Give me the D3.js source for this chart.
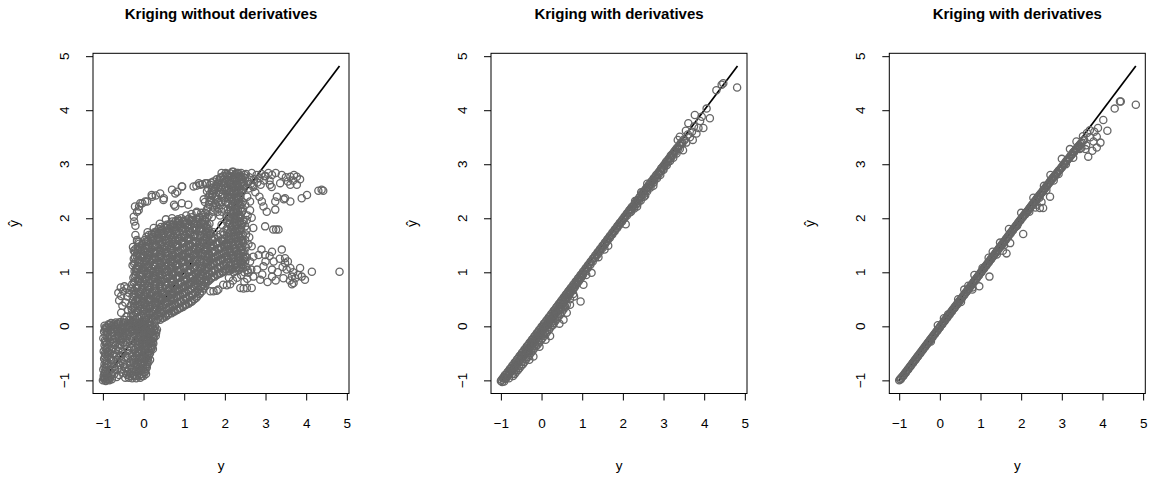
<!DOCTYPE html>
<html><head><meta charset="utf-8">
<script src="https://cdn.jsdelivr.net/npm/d3@7"></script>
<style>body{margin:0;background:#fff} text{font-family:"Liberation Sans",Arial,Helvetica,sans-serif;fill:#000}</style>
</head><body><svg id="c" width="1153" height="479"></svg>
<script>
// ---------- data ----------
const titles = ["Kriging without derivatives", "Kriging with derivatives", "Kriging with derivatives"];
const xLabel = "y";
const yLabel = "ŷ";
const tickValues = [-1, 0, 1, 2, 3, 4, 5];
const tickLabels = ["\u22121", "0", "1", "2", "3", "4", "5"];
const yRange = [-1.01, 4.82];   // range of the true responses (axes limits and the y = ŷ line)

// Panel 1: kriging without derivatives, pairs [y, ŷ]
const noDerivBlob = [
[-1.00,-1.00],[-0.97,-0.98],[-0.93,-1.01],[-0.88,-0.99],[-0.84,-1.00],[-0.78,-0.98],[-0.98,-0.92],[-0.95,-0.86],[-0.99,-0.80],[-0.92,-0.76],[-0.96,-0.70],[-0.90,-0.64],[-0.97,-0.60],[-0.93,-0.52],[-0.98,-0.46],[-0.91,-0.42],[-0.96,-0.35],[-0.92,-0.28],[-0.99,-0.22],[-0.94,-0.16],[-0.97,-0.10],[-0.92,-0.04],[-0.96,0.01],[-0.88,-0.12],[-0.86,-0.22],[-0.85,-0.34],[-0.87,-0.48],[-0.84,-0.58],[-0.86,-0.70],[-0.83,-0.82],[-0.80,-0.90],
[-0.85,0.02],[-0.80,0.06],[-0.74,0.03],[-0.68,0.07],[-0.62,0.04],[-0.56,0.08],[-0.50,0.03],[-0.44,0.07],[-0.38,0.02],[-0.32,0.06],[-0.26,0.01],[-0.20,0.05],[-0.14,0.00],[-0.08,0.04],[-0.02,-0.01],[0.04,0.03],[0.10,-0.02],[0.16,0.02],[0.22,-0.04],[0.28,0.00],[0.33,-0.06],
[-0.80,-0.06],[-0.73,-0.10],[-0.66,-0.05],[-0.60,-0.12],[-0.53,-0.07],[-0.46,-0.13],[-0.40,-0.06],[-0.33,-0.11],[-0.27,-0.05],[-0.21,-0.12],[-0.15,-0.07],[-0.09,-0.13],[-0.03,-0.08],[0.03,-0.12],[0.09,-0.08],[0.15,-0.14],[0.21,-0.10],[0.27,-0.15],
[-0.78,-0.18],[-0.70,-0.22],[-0.62,-0.19],[-0.55,-0.26],[-0.47,-0.21],[-0.35,-0.24],[-0.24,-0.20],[-0.12,-0.22],[-0.05,-0.28],[0.02,-0.20],[0.08,-0.26],[0.14,-0.21],[0.20,-0.27],[0.25,-0.22],
[-0.15,-0.35],[-0.08,-0.38],[0.00,-0.33],[0.07,-0.37],[0.14,-0.32],[0.21,-0.36],[-0.12,-0.45],[-0.04,-0.48],[0.04,-0.44],[0.11,-0.49],[0.18,-0.43],[-0.16,-0.55],[-0.09,-0.58],[-0.01,-0.54],[0.06,-0.59],[0.13,-0.55],[-0.13,-0.66],[-0.06,-0.69],[0.02,-0.65],[0.09,-0.70],[-0.17,-0.75],[-0.10,-0.78],[-0.03,-0.74],[0.05,-0.79],[-0.12,-0.86],[-0.05,-0.88],[0.02,-0.85],[-0.20,-0.84],[-0.26,-0.90],[-0.33,-0.92],
[-0.70,-0.35],[-0.62,-0.45],[-0.55,-0.55],[-0.48,-0.62],[-0.66,-0.62],[-0.74,-0.52],[-0.72,-0.74],[-0.64,-0.80],[-0.58,-0.72],[-0.50,-0.86],[-0.45,-0.95],[-0.40,-0.90],[-0.36,-0.80],[-0.42,-0.70],[-0.38,-0.45],[-0.30,-0.40],[-0.28,-0.55],[-0.24,-0.68],[-0.45,-0.35],[-0.32,-0.65],
[-0.60,0.48],[-0.55,0.56],[-0.50,0.65],[-0.47,0.74],[-0.42,0.70],[-0.52,0.38],[-0.45,0.44],[-0.40,0.55],[-0.36,0.62],[-0.38,0.30],[-0.32,0.38],[-0.30,0.22],[-0.42,0.18],[-0.55,0.25],[-0.48,0.12],[-0.35,0.12],[-0.62,0.62],[-0.26,0.48],[-0.30,0.70],[-0.56,0.72]
];
const noDerivBlobFill = [
[-0.95,-0.96],[-0.90,-0.94],[-0.86,-0.94],[-0.93,-0.82],[-0.89,-0.88],[-0.90,-0.72],[-0.94,-0.64],[-0.88,-0.56],[-0.95,-0.50],[-0.89,-0.40],[-0.94,-0.30],[-0.89,-0.20],[-0.95,-0.06],[-0.89,-0.02],[-0.82,-0.02],[-0.76,-0.04],[-0.70,-0.01],[-0.64,-0.08],[-0.58,-0.02],[-0.52,-0.10],[-0.46,-0.03],[-0.40,-0.11],[-0.34,-0.02],[-0.28,-0.09],[-0.22,-0.01],[-0.16,-0.10],[-0.10,-0.03],[-0.04,-0.12],[0.02,-0.04],[0.08,-0.14],[0.14,-0.05],[0.20,-0.17],[0.26,-0.08],[0.31,-0.12],
[-0.82,-0.28],[-0.74,-0.30],[-0.66,-0.28],[-0.58,-0.34],[-0.50,-0.30],[-0.41,-0.30],[-0.30,-0.30],[-0.19,-0.28],[-0.09,-0.30],[0.05,-0.30],[0.11,-0.40],[0.18,-0.30],[0.24,-0.32],
[-0.18,-0.40],[-0.11,-0.50],[-0.04,-0.60],[0.04,-0.50],[0.10,-0.62],[0.16,-0.50],[0.08,-0.76],[-0.14,-0.70],[-0.07,-0.82],[0.00,-0.92],[-0.16,-0.92],[-0.08,-0.95],[0.12,-0.66],[0.20,-0.40],[0.16,-0.62],
[-0.78,-0.42],[-0.80,-0.62],[-0.77,-0.78],[-0.72,-0.88],[-0.66,-0.94],[-0.60,-0.90],[-0.56,-0.80],[-0.62,-0.68],[-0.68,-0.54],[-0.64,-0.38],[-0.58,-0.40],[-0.52,-0.48],[-0.50,-0.70],[-0.44,-0.78],[-0.36,-0.95],[-0.28,-0.96],[-0.22,-0.92],[-0.24,-0.80],[-0.32,-0.72],[-0.38,-0.58],[-0.24,-0.44],[-0.22,-0.58],[-0.30,-0.86],[-0.40,-0.42],
[-0.97,-0.95],[-0.91,-0.98],[-0.86,-0.97],[-0.82,-0.95],[-0.96,-0.88],[-0.91,-0.84],[-0.96,-0.76],[-0.90,-0.68],[-0.95,-0.56],[-0.89,-0.48],[-0.94,-0.40],[-0.90,-0.32],[-0.95,-0.26],[-0.90,-0.10],[-0.94,-0.02],[-0.86,0.04],[-0.78,0.01],[-0.72,0.05],[-0.66,0.02],[-0.60,0.07],[-0.54,0.00],[-0.48,0.06],[-0.42,0.00],[-0.36,0.05],[-0.30,0.03],[-0.24,0.07],[-0.18,0.02],[-0.12,0.06],[-0.06,0.01],[0.00,0.05],[0.06,-0.04],[0.12,0.01],[0.18,-0.06],[0.24,-0.02],[0.30,-0.08],
[-0.76,-0.12],[-0.70,-0.08],[-0.63,-0.15],[-0.56,-0.10],[-0.49,-0.16],[-0.43,-0.09],[-0.37,-0.15],[-0.30,-0.08],[-0.24,-0.14],[-0.18,-0.06],[-0.12,-0.16],[-0.06,-0.10],[0.00,-0.16],[0.06,-0.10],[0.12,-0.18],[0.18,-0.12],[0.24,-0.19],[0.30,-0.18],
[-0.74,-0.24],[-0.66,-0.20],[-0.58,-0.23],[-0.51,-0.24],[-0.43,-0.26],[-0.28,-0.24],[-0.16,-0.26],[-0.08,-0.24],[-0.01,-0.26],[0.05,-0.23],[0.11,-0.28],[0.17,-0.24],[0.23,-0.28],
[-0.12,-0.33],[-0.04,-0.36],[0.04,-0.35],[0.10,-0.34],[0.17,-0.37],[0.23,-0.42],[-0.14,-0.50],[-0.07,-0.43],[0.01,-0.46],[0.08,-0.52],[0.15,-0.46],[-0.18,-0.62],[-0.11,-0.62],[-0.04,-0.56],[0.04,-0.62],[0.11,-0.58],[-0.15,-0.80],[-0.08,-0.72],[0.00,-0.70],[0.06,-0.74],[-0.10,-0.90],[-0.02,-0.80],[0.04,-0.84],[-0.18,-0.96],[-0.04,-0.92],[0.06,-0.88],
[-0.82,-0.50],[-0.81,-0.70],[-0.75,-0.62],[-0.70,-0.80],[-0.68,-0.44],[-0.60,-0.56],[-0.54,-0.64],[-0.46,-0.76],[-0.40,-0.84],[-0.34,-0.88],[-0.28,-0.78],[-0.26,-0.62],[-0.34,-0.50],[-0.42,-0.56],[-0.20,-0.70],[-0.20,-0.48]
];
const noDerivBand = [
[-0.28,0.08],[-0.25,0.19],[-0.29,0.31],[-0.24,0.42],[-0.27,0.55],[-0.23,0.66],[-0.28,0.78],[-0.25,0.90],[-0.22,1.02],[-0.27,1.13],[-0.24,1.25],[-0.21,1.37],[-0.26,1.47],
[-0.16,0.02],[-0.13,0.14],[-0.17,0.26],[-0.12,0.37],[-0.15,0.49],[-0.11,0.60],[-0.16,0.72],[-0.13,0.84],[-0.10,0.95],[-0.15,1.07],[-0.12,1.19],[-0.09,1.30],[-0.14,1.42],[-0.11,1.53],[-0.16,1.60],
[0.00,0.05],[0.03,0.16],[-0.02,0.28],[0.02,0.40],[-0.01,0.51],[0.04,0.63],[0.00,0.75],[0.03,0.87],[-0.02,0.98],[0.02,1.10],[0.05,1.21],[0.00,1.33],[0.03,1.45],[0.06,1.57],
[0.13,0.10],[0.16,0.22],[0.12,0.33],[0.15,0.45],[0.18,0.57],[0.13,0.68],[0.16,0.80],[0.12,0.92],[0.17,1.03],[0.14,1.15],[0.11,1.27],[0.16,1.38],[0.13,1.50],[0.18,1.62],[0.20,1.70],
[0.27,0.08],[0.30,0.20],[0.26,0.31],[0.29,0.43],[0.32,0.55],[0.27,0.66],[0.30,0.78],[0.26,0.90],[0.31,1.01],[0.28,1.13],[0.25,1.25],[0.30,1.36],[0.27,1.48],[0.32,1.60],[0.29,1.72],
[0.41,0.12],[0.44,0.24],[0.40,0.35],[0.43,0.47],[0.46,0.59],[0.41,0.70],[0.44,0.82],[0.40,0.94],[0.45,1.05],[0.42,1.17],[0.39,1.29],[0.44,1.40],[0.41,1.52],[0.46,1.64],[0.43,1.76],
[0.55,0.18],[0.58,0.30],[0.54,0.41],[0.57,0.53],[0.60,0.65],[0.55,0.76],[0.58,0.88],[0.54,1.00],[0.59,1.11],[0.56,1.23],[0.53,1.35],[0.58,1.46],[0.55,1.58],[0.60,1.70],[0.57,1.82],
[0.69,0.24],[0.72,0.36],[0.68,0.47],[0.71,0.59],[0.74,0.71],[0.69,0.82],[0.72,0.94],[0.68,1.06],[0.73,1.17],[0.70,1.29],[0.67,1.41],[0.72,1.52],[0.69,1.64],[0.74,1.76],[0.71,1.87],
[0.83,0.30],[0.86,0.42],[0.82,0.53],[0.85,0.65],[0.88,0.77],[0.83,0.88],[0.86,1.00],[0.82,1.12],[0.87,1.23],[0.84,1.35],[0.81,1.47],[0.86,1.58],[0.83,1.70],[0.88,1.82],[0.85,1.92],
[0.97,0.36],[1.00,0.48],[0.96,0.59],[0.99,0.71],[1.02,0.83],[0.97,0.94],[1.00,1.06],[0.96,1.18],[1.01,1.29],[0.98,1.41],[0.95,1.53],[1.00,1.64],[0.97,1.76],[1.02,1.88],[0.99,1.96],
[1.11,0.42],[1.14,0.54],[1.10,0.65],[1.13,0.77],[1.16,0.89],[1.11,1.00],[1.14,1.12],[1.10,1.24],[1.15,1.35],[1.12,1.47],[1.09,1.59],[1.14,1.70],[1.11,1.82],[1.16,1.94],
[1.25,0.50],[1.28,0.62],[1.24,0.73],[1.27,0.85],[1.30,0.97],[1.25,1.08],[1.28,1.20],[1.24,1.32],[1.29,1.43],[1.26,1.55],[1.23,1.67],[1.28,1.78],[1.25,1.90],[1.30,1.98],
[1.39,0.62],[1.42,0.74],[1.38,0.85],[1.41,0.97],[1.44,1.09],[1.39,1.20],[1.42,1.32],[1.38,1.44],[1.43,1.55],[1.40,1.67],[1.37,1.79],[1.42,1.90],[1.39,2.00],
[1.53,0.80],[1.56,0.92],[1.52,1.03],[1.55,1.15],[1.58,1.27],[1.53,1.38],[1.56,1.50],[1.52,1.62],[1.57,1.73],[1.54,1.85],[1.51,1.97],
[1.67,0.90],[1.70,1.02],[1.66,1.13],[1.69,1.25],[1.72,1.37],[1.67,1.48],[1.70,1.60],[1.66,1.72],[1.62,1.90],[1.68,2.02],
[1.81,0.95],[1.84,1.07],[1.80,1.18],[1.83,1.30],[1.86,1.42],[1.81,1.53],[1.84,1.65],[1.92,1.88],[1.88,2.05],
[1.95,1.00],[1.98,1.12],[1.94,1.23],[1.97,1.35],[2.00,1.47],[1.95,1.58],[1.98,1.70],
[1.05,2.05],[1.18,2.08],[1.30,2.10],[1.42,2.10],[0.55,1.98],[0.70,2.00],[0.40,1.90],[0.25,1.82],[0.10,1.74]
];
const noDerivBandFill = [
[-0.20,0.13],[-0.19,0.25],[-0.21,0.37],[-0.18,0.48],[-0.20,0.61],[-0.17,0.72],[-0.21,0.84],[-0.19,0.96],[-0.18,1.08],[-0.21,1.19],[-0.17,1.31],[-0.20,1.43],
[-0.07,0.08],[-0.05,0.20],[-0.08,0.32],[-0.04,0.44],[-0.06,0.56],[-0.03,0.68],[-0.07,0.80],[-0.05,0.92],[-0.04,1.04],[-0.07,1.15],[-0.03,1.27],[-0.06,1.39],[-0.04,1.50],
[0.07,0.12],[0.09,0.24],[0.06,0.36],[0.10,0.48],[0.08,0.60],[0.11,0.72],[0.07,0.84],[0.09,0.96],[0.10,1.08],[0.07,1.20],[0.11,1.32],[0.08,1.44],[0.10,1.56],[0.07,1.66],
[0.21,0.15],[0.23,0.27],[0.20,0.39],[0.24,0.51],[0.22,0.63],[0.25,0.75],[0.21,0.87],[0.23,0.99],[0.24,1.11],[0.21,1.23],[0.25,1.35],[0.22,1.47],[0.24,1.59],[0.21,1.71],
[0.35,0.14],[0.37,0.26],[0.34,0.38],[0.38,0.50],[0.36,0.62],[0.39,0.74],[0.35,0.86],[0.37,0.98],[0.38,1.10],[0.35,1.22],[0.39,1.34],[0.36,1.46],[0.38,1.58],[0.35,1.70],[0.37,1.80],
[0.49,0.16],[0.51,0.28],[0.48,0.40],[0.52,0.52],[0.50,0.64],[0.53,0.76],[0.49,0.88],[0.51,1.00],[0.52,1.12],[0.49,1.24],[0.53,1.36],[0.50,1.48],[0.52,1.60],[0.49,1.72],[0.51,1.84],
[0.63,0.24],[0.65,0.36],[0.62,0.48],[0.66,0.60],[0.64,0.72],[0.67,0.84],[0.63,0.96],[0.65,1.08],[0.66,1.20],[0.63,1.32],[0.67,1.44],[0.64,1.56],[0.66,1.68],[0.63,1.80],[0.65,1.90],
[0.77,0.28],[0.79,0.40],[0.76,0.52],[0.80,0.64],[0.78,0.76],[0.81,0.88],[0.77,1.00],[0.79,1.12],[0.80,1.24],[0.77,1.36],[0.81,1.48],[0.78,1.60],[0.80,1.72],[0.77,1.84],[0.79,1.95],
[0.91,0.34],[0.93,0.46],[0.90,0.58],[0.94,0.70],[0.92,0.82],[0.95,0.94],[0.91,1.06],[0.93,1.18],[0.94,1.30],[0.91,1.42],[0.95,1.54],[0.92,1.66],[0.94,1.78],[0.91,1.90],[0.93,2.00],
[1.05,0.40],[1.07,0.52],[1.04,0.64],[1.08,0.76],[1.06,0.88],[1.09,1.00],[1.05,1.12],[1.07,1.24],[1.08,1.36],[1.05,1.48],[1.09,1.60],[1.06,1.72],[1.08,1.84],[1.05,1.96],
[1.19,0.46],[1.21,0.58],[1.18,0.70],[1.22,0.82],[1.20,0.94],[1.23,1.06],[1.19,1.18],[1.21,1.30],[1.22,1.42],[1.19,1.54],[1.23,1.66],[1.20,1.78],[1.22,1.90],[1.19,2.02],
[1.33,0.56],[1.35,0.68],[1.32,0.80],[1.36,0.92],[1.34,1.04],[1.37,1.16],[1.33,1.28],[1.35,1.40],[1.36,1.52],[1.33,1.64],[1.37,1.76],[1.34,1.88],[1.36,2.02],
[1.47,0.70],[1.49,0.82],[1.46,0.94],[1.50,1.06],[1.48,1.18],[1.51,1.30],[1.47,1.42],[1.49,1.54],[1.50,1.66],[1.47,1.78],[1.49,1.90],[1.46,2.02],
[1.61,0.85],[1.63,0.97],[1.60,1.09],[1.64,1.21],[1.62,1.33],[1.65,1.45],[1.61,1.57],[1.63,1.69],[1.60,1.80],[1.56,2.00],
[1.75,0.92],[1.77,1.04],[1.74,1.16],[1.78,1.28],[1.76,1.40],[1.79,1.52],[1.75,1.64],[1.72,1.74],
[1.89,0.98],[1.91,1.10],[1.88,1.22],[1.92,1.34],[1.90,1.46],[1.93,1.58],[1.89,1.70],
[2.03,1.06],[2.04,1.18],[2.02,1.30],[2.05,1.42],[2.03,1.54],[2.05,1.66],[2.04,1.80],[2.06,1.92],[2.04,2.04],[2.07,2.16]
];
const noDerivBandFill2 = [
[-0.24,0.12],[-0.22,0.22],[-0.25,0.34],[-0.21,0.46],[-0.23,0.58],[-0.20,0.70],[-0.24,0.81],[-0.22,0.93],[-0.19,1.05],[-0.23,1.16],[-0.21,1.28],[-0.24,1.40],
[-0.12,0.06],[-0.10,0.18],[-0.13,0.29],[-0.09,0.41],[-0.11,0.52],[-0.08,0.64],[-0.12,0.75],[-0.10,0.87],[-0.07,0.99],[-0.11,1.10],[-0.09,1.22],[-0.12,1.34],[-0.08,1.46],[-0.12,1.56],
[0.04,0.09],[0.06,0.20],[0.02,0.31],[0.05,0.43],[0.03,0.55],[0.07,0.66],[0.04,0.78],[0.06,0.90],[0.02,1.02],[0.05,1.13],[0.08,1.25],[0.04,1.37],[0.06,1.49],[0.03,1.60],
[0.18,0.13],[0.20,0.25],[0.16,0.37],[0.19,0.49],[0.21,0.60],[0.17,0.72],[0.19,0.84],[0.16,0.95],[0.20,1.07],[0.18,1.19],[0.15,1.30],[0.19,1.42],[0.17,1.54],[0.20,1.66],
[0.32,0.11],[0.34,0.23],[0.30,0.35],[0.33,0.46],[0.35,0.58],[0.31,0.70],[0.33,0.82],[0.30,0.93],[0.34,1.05],[0.32,1.17],[0.29,1.28],[0.33,1.40],[0.31,1.52],[0.35,1.64],[0.32,1.75],
[0.46,0.15],[0.48,0.27],[0.44,0.39],[0.47,0.50],[0.49,0.62],[0.45,0.74],[0.47,0.85],[0.44,0.97],[0.48,1.09],[0.46,1.20],[0.43,1.32],[0.47,1.44],[0.45,1.56],[0.49,1.68],[0.46,1.79],
[0.60,0.21],[0.62,0.33],[0.58,0.45],[0.61,0.56],[0.63,0.68],[0.59,0.80],[0.61,0.91],[0.58,1.03],[0.62,1.15],[0.60,1.26],[0.57,1.38],[0.61,1.50],[0.59,1.62],[0.63,1.74],[0.60,1.85],
[0.74,0.27],[0.76,0.39],[0.72,0.51],[0.75,0.62],[0.77,0.74],[0.73,0.86],[0.75,0.97],[0.72,1.09],[0.76,1.21],[0.74,1.32],[0.71,1.44],[0.75,1.56],[0.73,1.68],[0.77,1.79],[0.74,1.90],
[0.88,0.33],[0.90,0.45],[0.86,0.57],[0.89,0.68],[0.91,0.80],[0.87,0.92],[0.89,1.03],[0.86,1.15],[0.90,1.27],[0.88,1.38],[0.85,1.50],[0.89,1.62],[0.87,1.74],[0.91,1.85],[0.88,1.95],
[1.02,0.39],[1.04,0.51],[1.00,0.63],[1.03,0.74],[1.05,0.86],[1.01,0.98],[1.03,1.09],[1.00,1.21],[1.04,1.33],[1.02,1.44],[0.99,1.56],[1.03,1.68],[1.01,1.80],[1.05,1.91],
[1.16,0.45],[1.18,0.57],[1.14,0.69],[1.17,0.80],[1.19,0.92],[1.15,1.04],[1.17,1.15],[1.14,1.27],[1.18,1.39],[1.16,1.50],[1.13,1.62],[1.17,1.74],[1.15,1.86],[1.19,1.97],
[1.30,0.53],[1.32,0.65],[1.28,0.77],[1.31,0.88],[1.33,1.00],[1.29,1.12],[1.31,1.23],[1.28,1.35],[1.32,1.47],[1.30,1.58],[1.27,1.70],[1.31,1.82],[1.29,1.94],
[1.44,0.65],[1.46,0.77],[1.42,0.89],[1.45,1.00],[1.47,1.12],[1.43,1.24],[1.45,1.35],[1.42,1.47],[1.46,1.59],[1.44,1.70],[1.41,1.82],[1.45,1.94],
[1.58,0.83],[1.60,0.95],[1.56,1.07],[1.59,1.18],[1.61,1.30],[1.57,1.42],[1.59,1.53],[1.56,1.65],[1.60,1.77],[1.57,1.88],
[1.72,0.93],[1.74,1.05],[1.70,1.17],[1.73,1.28],[1.75,1.40],[1.71,1.52],[1.73,1.63],
[1.86,0.98],[1.88,1.10],[1.84,1.22],[1.87,1.34],[1.89,1.46],[1.85,1.57],
[2.00,1.03],[2.02,1.15],[1.98,1.27],[2.01,1.39],[2.03,1.51],[1.99,1.62]
];
const noDerivBandFill3 = [
[-0.16,0.17],[-0.14,0.29],[-0.17,0.40],[-0.15,0.52],[-0.13,0.64],[-0.16,0.76],[-0.14,0.88],[-0.17,1.00],[-0.15,1.12],[-0.13,1.23],[-0.16,1.35],[-0.14,1.47],
[-0.02,0.11],[0.00,0.23],[-0.03,0.35],[-0.01,0.47],[0.01,0.59],[-0.02,0.71],[0.00,0.83],[-0.03,0.95],[-0.01,1.07],[0.01,1.19],[-0.02,1.30],[0.00,1.42],[-0.03,1.53],
[0.12,0.15],[0.14,0.27],[0.11,0.39],[0.13,0.51],[0.15,0.63],[0.12,0.75],[0.14,0.87],[0.11,0.99],[0.13,1.11],[0.15,1.23],[0.12,1.35],[0.14,1.47],[0.11,1.59],[0.13,1.69],
[0.26,0.18],[0.28,0.30],[0.25,0.42],[0.27,0.54],[0.29,0.66],[0.26,0.78],[0.28,0.90],[0.25,1.02],[0.27,1.14],[0.29,1.26],[0.26,1.38],[0.28,1.50],[0.25,1.62],[0.27,1.74],
[0.40,0.18],[0.42,0.30],[0.39,0.42],[0.41,0.54],[0.43,0.66],[0.40,0.78],[0.42,0.90],[0.39,1.02],[0.41,1.14],[0.43,1.26],[0.40,1.38],[0.42,1.50],[0.39,1.62],[0.41,1.73],[0.43,1.84],
[0.54,0.22],[0.56,0.34],[0.53,0.46],[0.55,0.58],[0.57,0.70],[0.54,0.82],[0.56,0.94],[0.53,1.06],[0.55,1.18],[0.57,1.30],[0.54,1.42],[0.56,1.54],[0.53,1.66],[0.55,1.77],[0.57,1.88],
[0.68,0.28],[0.70,0.40],[0.67,0.52],[0.69,0.64],[0.71,0.76],[0.68,0.88],[0.70,1.00],[0.67,1.12],[0.69,1.24],[0.71,1.36],[0.68,1.48],[0.70,1.60],[0.67,1.72],[0.69,1.84],[0.71,1.94],
[0.82,0.32],[0.84,0.44],[0.81,0.56],[0.83,0.68],[0.85,0.80],[0.82,0.92],[0.84,1.04],[0.81,1.16],[0.83,1.28],[0.85,1.40],[0.82,1.52],[0.84,1.64],[0.81,1.76],[0.83,1.88],[0.85,1.98],
[0.96,0.38],[0.98,0.50],[0.95,0.62],[0.97,0.74],[0.99,0.86],[0.96,0.98],[0.98,1.10],[0.95,1.22],[0.97,1.34],[0.99,1.46],[0.96,1.58],[0.98,1.70],[0.95,1.82],[0.97,1.94],
[1.10,0.44],[1.12,0.56],[1.09,0.68],[1.11,0.80],[1.13,0.92],[1.10,1.04],[1.12,1.16],[1.09,1.28],[1.11,1.40],[1.13,1.52],[1.10,1.64],[1.12,1.76],[1.09,1.88],[1.11,1.99],
[1.24,0.50],[1.26,0.62],[1.23,0.74],[1.25,0.86],[1.27,0.98],[1.24,1.10],[1.26,1.22],[1.23,1.34],[1.25,1.46],[1.27,1.58],[1.24,1.70],[1.26,1.82],[1.23,1.94],
[1.38,0.60],[1.40,0.72],[1.37,0.84],[1.39,0.96],[1.41,1.08],[1.38,1.20],[1.40,1.32],[1.37,1.44],[1.39,1.56],[1.41,1.68],[1.38,1.80],[1.40,1.92],
[1.52,0.74],[1.54,0.86],[1.51,0.98],[1.53,1.10],[1.55,1.22],[1.52,1.34],[1.54,1.46],[1.51,1.58],[1.53,1.70],[1.55,1.82],[1.52,1.94],
[1.66,0.88],[1.68,1.00],[1.65,1.12],[1.67,1.24],[1.69,1.36],[1.66,1.48],[1.68,1.60],[1.65,1.72],
[1.80,0.96],[1.82,1.08],[1.79,1.20],[1.81,1.32],[1.83,1.44],[1.80,1.56],
[1.94,1.02],[1.96,1.14],[1.93,1.26],[1.95,1.38],[1.97,1.50],[1.94,1.62],[1.96,1.74]
];
const noDerivColumn = [
[2.10,1.02],[2.22,1.00],[2.34,1.04],[2.44,1.08],[2.12,1.12],[2.26,1.14],[2.38,1.16],[2.08,1.24],[2.20,1.26],[2.32,1.28],[2.44,1.30],[2.14,1.36],[2.27,1.38],[2.39,1.40],[2.08,1.48],[2.21,1.50],[2.33,1.52],[2.45,1.54],[2.13,1.60],[2.26,1.62],[2.38,1.64],[2.10,1.72],[2.22,1.74],[2.34,1.76],[2.16,1.84],[2.28,1.86],[2.40,1.88],[2.12,1.96],[2.24,1.98],[2.36,2.00],[2.18,2.08],[2.30,2.10],[2.42,2.12],[2.14,2.20],[2.26,2.22],[2.38,2.24],[2.20,2.32],[2.32,2.34],[2.10,2.36],[2.16,2.44],[2.28,2.46],[2.40,2.48],[2.06,2.52],[2.22,2.56],[2.34,2.58],[2.12,2.62],[2.46,2.60],[2.00,2.68],[2.18,2.70],[2.30,2.70],[2.42,2.72],[2.08,2.76],[2.24,2.80],[2.36,2.78],[1.96,2.78],[2.14,2.83],[2.30,2.84],[2.48,2.80],[1.88,2.74],[2.02,2.84],
[2.16,1.06],[2.28,1.08],[2.40,1.10],[2.14,1.18],[2.32,1.20],[2.44,1.22],[2.20,1.32],[2.33,1.34],[2.45,1.36],[2.11,1.42],[2.27,1.44],[2.39,1.46],[2.15,1.54],[2.27,1.56],[2.40,1.58],[2.19,1.66],[2.32,1.68],[2.44,1.70],[2.16,1.78],[2.28,1.80],[2.40,1.82],[2.10,1.90],[2.22,1.92],[2.34,1.94],[2.46,1.94],[2.12,2.02],[2.24,2.04],[2.36,2.06],[2.20,2.14],[2.32,2.16],[2.44,2.18],[2.08,2.26],[2.20,2.26],[2.32,2.28],[2.44,2.30],[2.26,2.38],[2.38,2.40],[2.10,2.46],[2.22,2.50],[2.34,2.52],[2.46,2.54],[2.16,2.58],[2.28,2.62],[2.40,2.64],[2.06,2.70],[2.24,2.74],[2.36,2.70],[2.46,2.76],[2.12,2.78],[2.18,2.86],[2.40,2.84],[1.92,2.84],
[2.13,1.05],[2.25,1.03],[2.37,1.07],[2.16,1.15],[2.29,1.17],[2.41,1.19],[2.11,1.27],[2.23,1.29],[2.35,1.31],[2.17,1.39],[2.30,1.41],[2.42,1.43],[2.11,1.51],[2.24,1.53],[2.36,1.55],[2.16,1.63],[2.29,1.65],[2.41,1.67],[2.13,1.75],[2.25,1.77],[2.37,1.79],[2.19,1.87],[2.31,1.89],[2.43,1.91],[2.15,1.99],[2.27,2.01],[2.39,2.03],[2.21,2.11],[2.33,2.13],[2.17,2.23],[2.29,2.25],[2.41,2.27],[2.23,2.35],[2.35,2.37],[2.13,2.39],[2.19,2.47],[2.31,2.49],[2.43,2.51],[2.09,2.55],[2.25,2.59],[2.37,2.61],[2.15,2.65],[2.21,2.73],[2.33,2.75],[2.05,2.79],[2.27,2.83],[2.44,2.68],
[1.52,2.10],[1.58,2.20],[1.62,2.30],[1.66,2.38],[1.70,2.46],[1.74,2.54],[1.78,2.60],[1.84,2.66],[1.60,2.40],[1.68,2.52],[1.72,2.22],[1.80,2.35],[1.86,2.48],[1.90,2.58],[1.94,2.66],[1.76,2.28],[1.64,2.62],[1.56,2.50],[1.48,2.35],[1.82,2.12],[1.88,2.25],[1.92,2.40],[1.98,2.52],[2.02,2.30],[1.96,2.18],
[2.52,2.82],[2.60,2.76],[2.66,2.84],[2.72,2.72],[2.78,2.80],[2.84,2.74],[2.90,2.82],[2.96,2.70],[2.56,2.68],[2.64,2.64],[2.70,2.58],[2.80,2.66],[2.88,2.62],[2.50,2.74],[2.98,2.78]
];
const noDerivColumnFill = [
[2.07,1.08],[2.19,1.06],[2.31,1.10],[2.41,1.14],[2.09,1.18],[2.23,1.20],[2.35,1.22],[2.05,1.30],[2.17,1.32],[2.29,1.34],[2.41,1.36],[2.11,1.42],[2.24,1.44],[2.36,1.46],[2.05,1.54],[2.18,1.56],[2.30,1.58],[2.42,1.60],[2.10,1.66],[2.23,1.68],[2.35,1.70],[2.07,1.78],[2.19,1.80],[2.31,1.82],[2.13,1.90],[2.25,1.92],[2.37,1.94],[2.09,2.02],[2.21,2.04],[2.33,2.06],[2.15,2.14],[2.27,2.16],[2.39,2.18],[2.11,2.26],[2.23,2.28],[2.35,2.30],[2.17,2.38],[2.29,2.40],[2.07,2.42],[2.13,2.50],[2.25,2.52],[2.37,2.54],[2.03,2.58],[2.19,2.62],[2.31,2.64],[2.09,2.68],[2.43,2.66],[1.97,2.72],[2.15,2.76],[2.27,2.76],[2.39,2.78],[2.05,2.82],[2.21,2.86],[2.33,2.84],
[1.55,2.15],[1.61,2.25],[1.65,2.34],[1.69,2.42],[1.73,2.50],[1.77,2.57],[1.81,2.63],[1.87,2.70],[1.63,2.45],[1.71,2.57],[1.75,2.18],[1.83,2.30],[1.89,2.44],[1.93,2.53],[1.97,2.62],[1.79,2.24],[1.67,2.66],[1.59,2.55],[1.51,2.30],[1.85,2.18],[1.91,2.30],[1.95,2.45],[2.01,2.56],[1.99,2.38],[1.93,2.12],[1.60,2.05],[1.70,2.12],[1.78,2.40],[1.84,2.56],[1.90,2.76],[1.80,2.72],[1.72,2.68],
[2.48,1.00],[2.52,1.10],[2.50,1.20],[2.54,1.28],[2.48,1.38],[2.52,1.46],[2.47,1.26],[2.56,1.04]
];
const noDerivUpperArc = [
[-0.23,1.94],[-0.20,1.86],[-0.24,2.03],[-0.16,2.12],[-0.21,2.22],[-0.11,2.22],[-0.08,2.28],[-0.03,2.28],[0.04,2.31],[0.09,2.31],[0.20,2.43],[0.21,2.40],[0.41,2.46],[0.49,2.34],[0.50,2.37],[0.70,2.53],[0.78,2.46],[0.83,2.49],[0.94,2.59],[0.95,2.59],[0.75,2.25],[0.78,2.22],[0.94,2.28],[1.10,2.25],[1.23,2.59],[1.36,2.65],[1.39,2.62],[1.52,2.65],[1.56,2.65],[1.31,2.12],[1.47,2.06],[-0.20,1.69],[-0.16,1.57],[-0.12,2.15],[0.30,2.42],[1.45,2.63],[1.30,2.60]
];
const noDerivUpperRight = [
[3.16,2.80],[3.40,2.80],[3.61,2.77],[3.77,2.77],[3.77,2.62],[3.11,2.62],[3.36,2.65],[3.61,2.62],[4.30,2.51],[4.42,2.51],[4.38,2.53],[4.02,2.43],[3.89,2.37],[3.61,2.31],[3.48,2.37],[3.28,2.40],[3.24,2.31],[2.91,2.31],[2.95,2.22],[3.24,2.16],[3.03,2.12],[2.62,2.31],[2.66,2.01],[2.99,1.85],[3.19,1.79],[3.26,1.79],[3.32,1.79],[2.70,1.82],[2.54,1.79],[2.42,2.12],[2.50,2.25],[3.00,2.78],[3.07,2.84],[3.25,2.84],[3.50,2.76],[3.70,2.80],[3.85,2.72],[3.55,2.68],[3.68,2.70],[2.58,2.55],[2.75,2.48],[2.85,2.40],[2.55,2.40],[2.62,2.15],[2.68,2.62],[3.10,2.70],[3.45,2.35],[3.15,2.58],
[2.50,1.60],[2.58,1.52],[2.66,1.48],[2.54,1.97],[2.46,1.97],[2.50,1.85],[2.52,1.70],[2.60,1.65],[2.56,2.05]
];
const noDerivLowerRight = [
[3.40,1.42],[3.16,1.38],[2.99,1.32],[2.83,1.32],[2.70,1.29],[3.48,1.26],[3.48,1.17],[3.61,1.08],[3.85,1.08],[4.14,1.01],[4.82,1.01],[3.89,0.92],[3.97,0.86],[3.65,0.92],[3.73,0.89],[3.69,0.80],[3.44,0.89],[3.16,0.92],[3.16,1.05],[2.95,1.11],[2.79,1.05],[2.70,0.92],[2.87,0.86],[2.58,0.99],[2.46,1.14],[2.62,1.20],[2.50,1.29],[3.05,0.82],[3.25,0.85],[3.30,1.00],[3.55,1.20],[3.52,1.05],[3.35,1.25],[3.68,1.00],[3.80,0.95],[2.92,0.96],[2.55,0.88],[2.65,1.05],[2.40,0.95],[2.48,0.82],[2.38,1.22],[3.00,1.20],[3.60,0.85],[3.65,0.78],[3.10,1.30],[2.90,1.42],[3.20,1.20],[3.42,1.10],
[2.38,0.71],[2.46,0.70],[2.54,0.71],[2.66,0.71],[1.96,0.77],[2.05,0.76],[2.13,0.78],[1.84,0.68],[1.64,0.65],[1.72,0.65],[1.80,0.66],[1.50,0.75],[2.20,0.85],[2.30,0.90],[2.10,0.90]
];

// Panel 2: kriging with derivatives (first), pairs [y, ŷ]
const derivA = [
[-1.00,-1.01],[-0.95,-0.96],[-0.90,-0.90],[-0.84,-0.85],[-0.78,-0.79],[-0.72,-0.73],[-0.66,-0.67],[-0.60,-0.61],[-0.54,-0.55],[-0.48,-0.49],[-0.42,-0.43],[-0.36,-0.37],[-0.30,-0.31],[-0.24,-0.25],[-0.18,-0.19],[-0.12,-0.13],[-0.06,-0.07],[0.00,-0.01],[0.06,0.05],[0.12,0.11],[0.18,0.17],[0.24,0.23],[0.30,0.29],[0.36,0.35],[0.42,0.41],[0.48,0.47],[0.54,0.53],[0.60,0.59],[0.66,0.65],[0.72,0.71],[0.78,0.77],[0.84,0.83],[0.90,0.89],[0.96,0.95],[1.02,1.01],[1.08,1.07],[1.14,1.13],[1.20,1.19],[1.26,1.25],[1.32,1.31],[1.38,1.37],[1.44,1.43],[1.50,1.49],[1.56,1.55],[1.62,1.61],[1.68,1.67],[1.74,1.73],[1.80,1.79],[1.86,1.85],[1.92,1.91],[1.98,1.97],[2.04,2.03],[2.10,2.09],[2.16,2.15],[2.22,2.21],[2.28,2.26],[2.34,2.33],[2.40,2.38],[2.46,2.45],[2.52,2.50],[2.58,2.56],[2.64,2.62],[2.70,2.68],[2.76,2.74],[2.82,2.80],[2.88,2.85],[2.94,2.92],[3.00,2.97],[3.06,3.04],[3.12,3.09],[3.18,3.16],[3.24,3.21],[3.30,3.27],[3.36,3.32],[3.42,3.39],
[-0.92,-1.02],[-0.86,-0.95],[-0.80,-0.89],[-0.74,-0.83],[-0.68,-0.78],[-0.62,-0.72],[-0.56,-0.66],[-0.50,-0.60],[-0.44,-0.54],[-0.38,-0.49],[-0.32,-0.43],[-0.26,-0.37],[-0.20,-0.31],[-0.14,-0.25],[-0.08,-0.19],[-0.02,-0.13],[0.04,-0.07],[0.10,-0.01],[0.16,0.05],[0.22,0.11],[0.28,0.17],[0.34,0.23],[0.40,0.29],[0.46,0.35],[0.52,0.42],[0.58,0.48],[0.64,0.54],[0.70,0.61],[0.76,0.67],[0.82,0.73],[0.88,0.80],[0.94,0.86],[1.00,0.93],
[-0.70,-0.92],[-0.62,-0.84],[-0.54,-0.77],[-0.46,-0.70],[-0.38,-0.61],[-0.30,-0.53],[-0.22,-0.45],[-0.14,-0.37],[-0.06,-0.30],[0.02,-0.22],[0.10,-0.14],[0.18,-0.07],[0.26,0.02],[0.34,0.10],[0.42,0.18],[0.50,0.27],[0.58,0.36],
[-0.30,-0.62],[-0.20,-0.56],[-0.05,-0.38],[0.10,-0.25],[0.21,-0.18],[0.29,0.03],[0.54,0.12],[0.44,0.05],[0.70,0.40],[0.96,0.46],[1.03,0.77],[1.23,0.99],[2.07,1.89],[1.64,1.49],[0.62,0.25],[0.80,0.55],[1.10,0.95],[1.40,1.28],[1.55,1.42],
[2.20,2.12],[2.28,2.18],[2.36,2.27],[2.44,2.33],[2.52,2.40],[2.60,2.50],[2.68,2.57],[2.76,2.66],[2.84,2.74],[2.92,2.80],[3.00,2.90],[3.08,2.98],[3.16,3.06],[3.24,3.12],[3.32,3.20],[3.40,3.28],[2.30,2.32],[2.45,2.48],[2.60,2.64],[2.35,2.22],[2.55,2.42],[2.75,2.60],[3.35,3.45],
[3.40,3.51],[3.48,3.26],[3.52,3.45],[3.56,3.40],[3.60,3.55],[3.61,3.76],[3.65,3.50],[3.70,3.60],[3.72,3.45],[3.77,3.91],[3.81,3.57],[3.86,3.67],[3.94,3.88],[3.98,3.67],[4.06,4.03],[4.14,3.85],[4.30,4.37],[4.43,4.47],[4.47,4.50],[4.81,4.42],[3.55,3.62],[3.46,3.38],[3.75,3.70],[3.90,3.80]
];
const derivAFill = [
[-0.98,-0.99],[-0.93,-0.94],[-0.87,-0.89],[-0.81,-0.83],[-0.75,-0.77],[-0.69,-0.71],[-0.63,-0.65],[-0.57,-0.59],[-0.51,-0.53],[-0.45,-0.47],[-0.39,-0.41],[-0.33,-0.35],[-0.27,-0.29],[-0.21,-0.23],[-0.15,-0.17],[-0.09,-0.11],[-0.03,-0.05],[0.03,0.01],[0.09,0.07],[0.15,0.13],[0.21,0.19],[0.27,0.25],[0.33,0.31],[0.39,0.37],[0.45,0.43],[0.51,0.49],[0.57,0.55],[0.63,0.61],[0.69,0.67],[0.75,0.73],[0.81,0.79],[0.87,0.85],[0.93,0.91],[0.99,0.97],[1.05,1.03],[1.11,1.09],[1.17,1.15],[1.23,1.21],[1.29,1.27],[1.35,1.33],[1.41,1.39],[1.47,1.45],[1.53,1.51],[1.59,1.57],[1.65,1.63],[1.71,1.69],[1.77,1.75],[1.83,1.81],[1.89,1.87],[1.95,1.93],[2.01,1.99],[2.07,2.05],[2.13,2.11],[2.19,2.17],[2.25,2.22],[2.31,2.29],[2.37,2.34],[2.43,2.41],[2.49,2.46],[2.55,2.53],[2.61,2.58],[2.67,2.64],[2.73,2.70],[2.79,2.76],[2.85,2.82],[2.91,2.88],[2.97,2.94],[3.03,3.00],[3.09,3.06],[3.15,3.12],[3.21,3.18],[3.27,3.24],[3.33,3.30],[3.39,3.35],[3.45,3.41],[3.50,3.46],
[-0.89,-0.97],[-0.83,-0.92],[-0.77,-0.86],[-0.71,-0.81],[-0.65,-0.75],[-0.59,-0.69],[-0.53,-0.63],[-0.47,-0.57],[-0.41,-0.52],[-0.35,-0.46],[-0.29,-0.40],[-0.23,-0.34],[-0.17,-0.28],[-0.11,-0.22],[-0.05,-0.16],[0.01,-0.10],[0.07,-0.04],[0.13,0.02],[0.19,0.08],[0.25,0.14],[0.31,0.20],[0.37,0.26],[0.43,0.32],[0.49,0.39],[0.55,0.45],[0.61,0.51],[0.67,0.58],[0.73,0.64],[0.79,0.70],[0.85,0.77],[0.91,0.83],[0.97,0.90],
[-0.66,-0.88],[-0.58,-0.81],[-0.50,-0.73],[-0.42,-0.66],[-0.34,-0.57],[-0.26,-0.49],[-0.18,-0.41],[-0.10,-0.34],[-0.02,-0.26],[0.06,-0.18],[0.14,-0.10],[0.22,-0.02],[0.30,0.06],[0.38,0.14],[0.46,0.22],[0.54,0.31],[0.62,0.40],[0.70,0.50],[0.78,0.60],
[-0.97,-1.03],[-0.90,-0.97],[-0.84,-0.91],[-0.78,-0.85],[-0.72,-0.80],[-0.66,-0.74],[-0.60,-0.68],[-0.54,-0.62],[-0.48,-0.56],[-0.42,-0.50],[-0.36,-0.44],[-0.30,-0.38],[-0.24,-0.32],[-0.18,-0.26],[-0.12,-0.20],[-0.06,-0.14],[0.00,-0.08],[0.06,-0.02],[0.12,0.04],[0.18,0.10],[0.24,0.16],[0.30,0.22],[0.36,0.28],[0.42,0.34],[0.48,0.40],[0.54,0.47],[0.60,0.53],[0.66,0.59],[0.72,0.66],[0.78,0.72],[0.84,0.78],[0.90,0.84],[0.96,0.90],[1.02,0.96],[1.08,1.02],[1.14,1.08],[1.20,1.14],[1.26,1.20],[1.32,1.27],[1.38,1.33],[1.44,1.39],[1.50,1.45],[1.56,1.52],[1.62,1.58],[1.68,1.64],[1.74,1.70],[1.80,1.76],[1.86,1.82],[1.92,1.88],[1.98,1.94],[2.04,2.00],[2.10,2.05],[2.16,2.10],[2.22,2.16],[2.28,2.22],[2.34,2.28],[2.40,2.33],[2.46,2.39],[2.52,2.45],[2.58,2.52],[2.64,2.58],[2.70,2.63],[2.76,2.70],[2.82,2.76],[2.88,2.81],[2.94,2.87],[3.00,2.93],[3.06,3.00],[3.12,3.05],[3.18,3.11],[3.24,3.17],[3.30,3.23],[3.36,3.29],
[-0.80,-0.96],[-0.72,-0.88],[-0.64,-0.80],[-0.56,-0.73],[-0.48,-0.65],[-0.40,-0.57],[-0.32,-0.49],[-0.24,-0.41],[-0.16,-0.33],[-0.08,-0.26],[0.00,-0.18],[0.08,-0.10],[0.16,-0.02],[0.24,0.07],[0.32,0.15],[0.40,0.23],[0.48,0.31],[0.56,0.40]
];

// Panel 3: kriging with derivatives (second), pairs [y, ŷ]
const derivB = [
[-1.00,-1.00],[-0.95,-0.95],[-0.89,-0.90],[-0.83,-0.84],[-0.77,-0.78],[-0.71,-0.72],[-0.65,-0.66],[-0.59,-0.60],[-0.53,-0.54],[-0.47,-0.48],[-0.41,-0.42],[-0.35,-0.36],[-0.29,-0.30],[-0.23,-0.24],[-0.17,-0.18],[-0.11,-0.12],[-0.05,-0.06],[0.01,0.00],[0.07,0.06],[0.13,0.12],[0.19,0.18],[0.25,0.24],[0.31,0.30],[0.37,0.36],[0.43,0.42],[0.49,0.48],[0.55,0.54],[0.61,0.60],[0.67,0.66],[0.73,0.72],[0.79,0.78],[0.85,0.84],[0.91,0.90],[0.97,0.96],[1.03,1.02],[1.09,1.08],[1.15,1.14],[1.21,1.20],[1.27,1.26],[1.33,1.32],[1.39,1.38],[1.45,1.44],[1.51,1.50],[1.57,1.56],[1.63,1.62],[1.69,1.68],[1.75,1.74],[1.81,1.80],[1.87,1.86],[1.93,1.92],[1.99,1.98],[2.05,2.04],[2.11,2.10],[2.17,2.15],[2.23,2.21],[2.29,2.27],[2.35,2.33],[2.41,2.39],[2.47,2.45],[2.53,2.51],[2.59,2.56],[2.65,2.62],[2.71,2.68],[2.77,2.74],[2.83,2.79],[2.89,2.85],[2.95,2.90],[3.01,2.96],[3.07,3.02],[3.13,3.08],[3.19,3.13],[3.25,3.19],[3.31,3.24],[3.37,3.30],[3.43,3.35],[3.49,3.40],
[-0.22,-0.28],[-0.05,0.02],[0.10,0.15],[0.20,0.22],[0.45,0.50],[0.52,0.45],[0.60,0.68],[0.70,0.75],[0.80,0.72],[0.85,0.95],[1.05,1.08],[1.20,1.27],[1.30,1.38],[1.40,1.33],[1.48,1.55],[1.58,1.50],[1.70,1.80],[1.90,1.86],[2.00,2.10],[2.20,2.12],[2.30,2.38],[2.38,2.25],[2.45,2.38],[2.56,2.60],[2.62,2.52],[2.72,2.80],[2.80,2.70],[2.92,2.82],[3.00,3.10],[3.10,3.00],[3.20,3.28],[3.28,3.12],[3.36,3.42],[3.44,3.28],
[0.97,0.74],[1.22,0.92],[1.64,1.35],[1.73,1.54],[2.05,1.71],[2.46,2.19],[2.54,2.19],[2.71,2.40],[2.35,2.20],[2.50,2.30],[1.55,1.40],[0.80,0.68],
[3.65,3.14],[3.86,3.31],[3.95,3.40],[3.86,3.51],[3.89,3.67],[4.02,3.82],[4.12,3.62],[4.30,4.03],[4.43,4.16],[4.45,4.16],[4.82,4.10],[3.69,3.63],[3.55,3.45],[3.60,3.35],[3.70,3.50],[3.75,3.25],[3.80,3.60],[3.52,3.52],[3.62,3.58],[3.58,3.28],[3.78,3.42],[3.48,3.30]
];
const derivBFill = [
[-0.98,-0.98],[-0.92,-0.93],[-0.86,-0.87],[-0.80,-0.81],[-0.74,-0.75],[-0.68,-0.69],[-0.62,-0.63],[-0.56,-0.57],[-0.50,-0.51],[-0.44,-0.45],[-0.38,-0.39],[-0.32,-0.33],[-0.26,-0.27],[-0.20,-0.21],[-0.14,-0.15],[-0.08,-0.09],[-0.02,-0.03],[0.04,0.03],[0.10,0.09],[0.16,0.15],[0.22,0.21],[0.28,0.27],[0.34,0.33],[0.40,0.39],[0.46,0.45],[0.52,0.51],[0.58,0.57],[0.64,0.63],[0.70,0.69],[0.76,0.75],[0.82,0.81],[0.88,0.87],[0.94,0.93],[1.00,0.99],[1.06,1.05],[1.12,1.11],[1.18,1.17],[1.24,1.23],[1.30,1.29],[1.36,1.35],[1.42,1.41],[1.48,1.47],[1.54,1.53],[1.60,1.59],[1.66,1.65],[1.72,1.71],[1.78,1.77],[1.84,1.83],[1.90,1.89],[1.96,1.95],[2.02,2.01],[2.08,2.07],[2.14,2.12],[2.20,2.18],[2.26,2.24],[2.32,2.30],[2.38,2.36],[2.44,2.42],[2.50,2.47],[2.56,2.53],[2.62,2.59],[2.68,2.65],[2.74,2.71],[2.80,2.77],[2.86,2.82],[2.92,2.88],[2.98,2.93],[3.04,2.99],[3.10,3.05],[3.16,3.10],[3.22,3.16],[3.28,3.22],[3.34,3.27],[3.40,3.33],[3.46,3.38],[3.52,3.44],
[-0.96,-0.98],[-0.90,-0.92],[-0.84,-0.86],[-0.78,-0.80],[-0.72,-0.74],[-0.66,-0.68],[-0.60,-0.62],[-0.54,-0.56],[-0.48,-0.50],[-0.42,-0.44],[-0.36,-0.38],[-0.30,-0.32],[-0.24,-0.26],[-0.18,-0.20],[-0.12,-0.14],[-0.06,-0.08],[0.00,-0.02],[0.06,0.04],[0.12,0.10],[0.18,0.16],[0.24,0.22],[0.30,0.28],[0.36,0.34],[0.42,0.40],[0.48,0.46],[0.54,0.52],[0.60,0.58],[0.66,0.64],[0.72,0.70],[0.78,0.76],[0.84,0.82],[0.90,0.88],[0.96,0.94],[1.02,1.00],[1.08,1.06],[1.14,1.12],[1.20,1.18],[1.26,1.24],[1.32,1.30],[1.38,1.36],[1.44,1.42],[1.50,1.48],[1.56,1.54],[1.62,1.60],[1.68,1.66],[1.74,1.72],[1.80,1.78],[1.86,1.84],[1.92,1.90],[1.98,1.96],[2.04,2.02],[2.10,2.07],[2.16,2.13],[2.22,2.19],[2.28,2.25],[2.34,2.31],[2.40,2.37],[2.46,2.42],[2.52,2.48],[2.58,2.54],[2.64,2.60],[2.70,2.66],[2.76,2.72],[2.82,2.77],[2.88,2.83],[2.94,2.89],[3.00,2.94],[3.06,3.00],[3.12,3.06],[3.18,3.11],[3.24,3.17],[3.30,3.22],[3.36,3.28],[3.42,3.33]
];

const panelPoints = [
  [].concat(noDerivBlob, noDerivBlobFill, noDerivBand, noDerivBandFill, noDerivBandFill2, noDerivBandFill3,
            noDerivColumn, noDerivColumnFill, noDerivUpperArc, noDerivUpperRight, noDerivLowerRight),
  [].concat(derivA, derivAFill),
  [].concat(derivB, derivBFill)
];

// ---------- layout ----------
const plotLefts = [93, 491, 889.3];
const plotW = 256, plotTop = 53.3, plotH = 340.2;
const ext = (yRange[1] - yRange[0]) * 0.04;
const dom = [yRange[0] - ext, yRange[1] + ext];
const ptColor = "#666666";

const svg = d3.select("#c");
svg.append("rect").attr("width", 1153).attr("height", 479).attr("fill", "#fff");

panelPoints.forEach((pts, i) => {
  const L = plotLefts[i];
  const x = d3.scaleLinear().domain(dom).range([L, L + plotW]);
  const y = d3.scaleLinear().domain(dom).range([plotTop + plotH, plotTop]);
  const g = svg.append("g");

  // reference line y = ŷ (drawn first, under the open circles)
  g.append("path")
    .datum([[yRange[0], yRange[0]], [yRange[1], yRange[1]]])
    .attr("d", d3.line().x(d => x(d[0])).y(d => y(d[1])))
    .attr("stroke", "#000").attr("stroke-width", 1.7).attr("fill", "none");

  // points
  g.append("g").selectAll("circle").data(pts).join("circle")
    .attr("cx", d => x(d[0])).attr("cy", d => y(d[1])).attr("r", 3.6)
    .attr("fill", "none").attr("stroke", ptColor).attr("stroke-width", 1.3);

  // box
  g.append("rect").attr("x", L).attr("y", plotTop).attr("width", plotW).attr("height", plotH)
    .attr("fill", "none").attr("stroke", "#000").attr("stroke-width", 1);

  // bottom axis
  const xa = g.append("g").attr("transform", `translate(0,${plotTop + plotH})`)
    .call(d3.axisBottom(x).tickValues(tickValues).tickSize(7).tickPadding(18)
      .tickFormat((d, k) => tickLabels[k]));
  xa.select(".domain").remove();
  xa.selectAll("line").attr("stroke", "#000");
  xa.selectAll("text").attr("font-size", 13.5).attr("font-family", "Liberation Sans, Arial, sans-serif");

  // left axis
  const ya = g.append("g").attr("transform", `translate(${L},0)`)
    .call(d3.axisLeft(y).tickValues(tickValues).tickSize(7).tickFormat(""));
  ya.select(".domain").remove();
  ya.selectAll("line").attr("stroke", "#000");
  g.append("g").selectAll("text").data(tickValues).join("text")
    .attr("transform", d => `translate(${L - 24},${y(d)}) rotate(-90)`)
    .attr("text-anchor", "middle").attr("font-size", 13.5)
    .text((d, k) => tickLabels[k]);

  // titles and axis labels
  g.append("text").attr("x", L + plotW / 2).attr("y", 18.5).attr("text-anchor", "middle")
    .attr("font-weight", "bold").attr("font-size", 15).text(titles[i]);
  g.append("text").attr("x", L + plotW / 2).attr("y", 470).attr("text-anchor", "middle")
    .attr("font-size", 13.5).text(xLabel);
  g.append("text").attr("transform", `translate(${L - 74},${plotTop + plotH / 2}) rotate(-90)`)
    .attr("text-anchor", "middle").attr("font-size", 14).text(yLabel);
});
</script></body></html>
